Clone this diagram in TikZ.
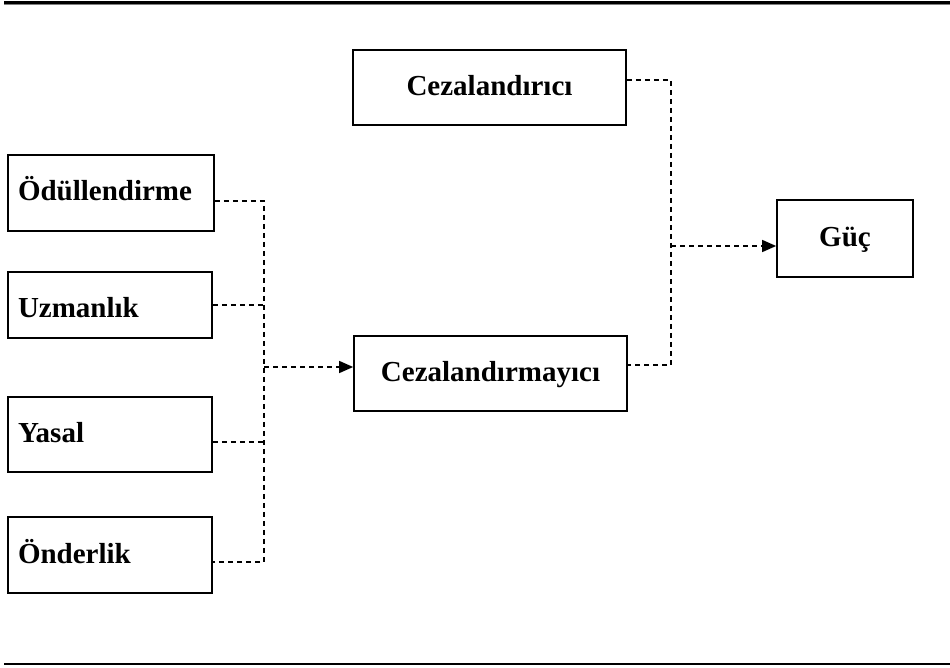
\documentclass[tikz,border=0pt]{standalone}
\usepackage{fontspec}
\setmainfont{Liberation Serif}
\usetikzlibrary{arrows.meta}
\begin{document}
\begin{tikzpicture}[x=1pt,y=-1pt,
  box/.style={draw,line width=1.7pt,inner sep=0pt,minimum height=75pt,
    text height=20pt,text depth=4pt,
    font=\fontsize{29}{31}\selectfont\bfseries},
  leftbox/.style={box,minimum width=206pt,text width=186pt,align=left},
  link/.style={dash pattern=on 5pt off 4pt,line width=1.5pt},
  tip/.style={link,-{Triangle[length=14pt,width=12pt]}}
]
\useasboundingbox (0,0) rectangle (950,668);

% rules above and below
\draw[line width=2.2pt] (4,2.5) -- (950,2.5);
\draw[gray,line width=0.7pt] (4,4.5) -- (950,4.5);
\draw[line width=2.6pt] (4,664) -- (950,664);

% boxes
\node[box,minimum width=273pt] (cc) at (489.5,87.5) {Cezalandırıcı};
\node[box,minimum width=273pt] (cm) at (490.5,373.5) {Cezalandırmayıcı};
\node[box,minimum width=136pt,minimum height=77pt] (guc) at (845,238.5) {Güç};
\node[leftbox,minimum height=76pt] (od) at (111,193) {Ödüllendirme};
\node[leftbox,minimum width=204pt,text width=184pt,minimum height=66pt,text height=24pt,text depth=0pt] (uz) at (110,305) {Uzmanlık};
\node[leftbox,minimum width=204pt,text width=184pt] (ya) at (110,434.5) {Yasal};
\node[leftbox,minimum width=204pt,text width=184pt,minimum height=76pt] (ond) at (110,555) {Önderlik};

% left collector
\coordinate (lbus) at (264,0);
\coordinate (odOut) at ([yshift=-8pt]od.east);
\coordinate (uzOut) at (uz.east);
\coordinate (yaOut) at ([yshift=-7.5pt]ya.east);
\coordinate (ondOut) at ([yshift=-7pt]ond.east);
\coordinate (cmIn) at ([yshift=6.5pt]cm.west);
\draw[link] (odOut) -- (odOut -| lbus) -- (ondOut -| lbus) -- (ondOut);
\draw[link] (uzOut) -- (uzOut -| lbus);
\draw[link] (yaOut) -- (yaOut -| lbus);
\draw[tip] (cmIn -| lbus) -- (cmIn);

% right collector
\coordinate (rbus) at (671,0);
\coordinate (ccOut) at ([yshift=7.5pt]cc.east);
\coordinate (cmOut) at ([yshift=8.5pt]cm.east);
\coordinate (gucIn) at ([yshift=-7.5pt]guc.west);
\draw[link] (ccOut) -- (ccOut -| rbus) -- (cmOut -| rbus) -- (cmOut);
\draw[tip] (gucIn -| rbus) -- (gucIn);
\end{tikzpicture}
\end{document}
